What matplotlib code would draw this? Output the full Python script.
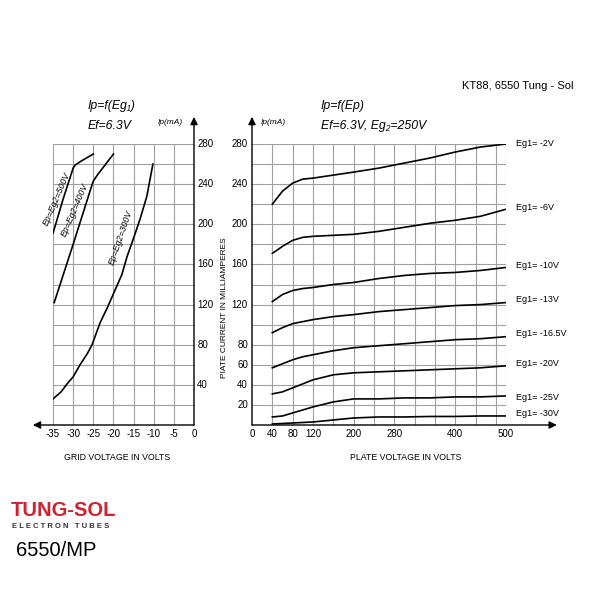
import matplotlib
matplotlib.use("Agg")
import matplotlib.pyplot as plt
from matplotlib import font_manager

plt.rcParams['font.family'] = ['Liberation Sans', 'DejaVu Sans']

# ---------------- data ----------------
# Left panel: Ip = f(Eg1)
eg_500 = [-35, -32.5, -30, -29.5, -28, -25]
ip_500 = [191, 225, 256, 259, 263, 270]
eg_400 = [-34.7, -30, -25.5, -25, -24, -20]
ip_400 = [122, 180, 237, 243, 249, 270]
eg_300 = [-35, -33, -31.5, -30, -28.3, -26.5, -25.3, -23.3, -21.5, -20.3,
          -17.9, -16.6, -15.1, -13.4, -11.7, -10.2]
ip_300 = [26, 33, 41, 48, 60, 71, 80, 102, 117, 128, 150, 168, 185, 205, 228, 260]
left_labels = ["Ep=Eg2=500V", "Ep=Eg2=400V", "Ep=Eg2=300V"]
left_xticks = [-35, -30, -25, -20, -15, -10, -5, 0]
left_yticks = [40, 80, 120, 160, 200, 240, 280]

# Right panel: Ip = f(Ep)
ep = [40, 60, 80, 100, 120, 160, 200, 250, 300, 350, 400, 450, 500]
curves = {
    "Eg1= -2V":    [220, 233, 241, 245, 246, 249, 252, 256, 261, 266, 272, 277, 280],
    "Eg1= -6V":    [171, 178, 184, 187, 188, 189, 190, 193, 197, 201, 204, 208, 215],
    "Eg1= -10V":   [123, 130, 134, 136, 137, 140, 142, 146, 149, 151, 152, 154, 157],
    "Eg1= -13V":   [92, 97, 101, 103, 105, 108, 110, 113, 115, 117, 119, 120, 122],
    "Eg1= -16.5V": [57, 61, 65, 68, 70, 74, 77, 79, 81, 83, 85, 86, 88],
    "Eg1= -20V":   [31, 33, 37, 41, 45, 50, 52, 53, 54, 55, 56, 57, 59],
    "Eg1= -25V":   [8, 9, 12, 15, 18, 23, 26, 26, 27, 27, 28, 28, 29],
    "Eg1= -30V":   [1, 1.5, 2, 2.5, 3, 5, 7, 8, 8, 8.5, 8.5, 9, 9],
}
right_xticks = [0, 40, 80, 120, 200, 280, 400, 500]
right_yticks = [20, 40, 60, 80, 120, 160, 200, 240, 280]

# ---------------- figure ----------------
fig = plt.figure(figsize=(6, 6), dpi=100)
fig.patch.set_facecolor('white')

def fpx(x, y):
    return x / 600.0, 1 - y / 600.0

GRID = '#a0a0a0'
TICKFS = 7
TITLEFS = 8.8

# Left axes
axL = fig.add_axes([53/600, 175/600, 141/600, 281/600])
axL.set_xlim(-35, 0)
axL.set_ylim(0, 280)
axL.axis('off')
for v in range(-35, 0, 5):
    axL.plot([v, v], [0, 280], color=GRID, lw=0.8, zorder=1)
for h in range(20, 281, 20):
    axL.plot([-35, 0], [h, h], color=GRID, lw=0.8, zorder=1)
axL.plot(eg_500, ip_500, color='black', lw=1.2, zorder=3)
axL.plot(eg_400, ip_400, color='black', lw=1.2, zorder=3)
axL.plot(eg_300, ip_300, color='black', lw=1.2, zorder=3)
axL.text(-34.0, 225, left_labels[0], rotation=67, rotation_mode='anchor',
         ha='center', va='center', fontsize=6.3, style='italic', zorder=4)
axL.text(-29.7, 214, left_labels[1], rotation=67, rotation_mode='anchor',
         ha='center', va='center', fontsize=6.3, style='italic', zorder=4)
axL.text(-18.2, 187, left_labels[2], rotation=71, rotation_mode='anchor',
         ha='center', va='center', fontsize=6.3, style='italic', zorder=4)
arrow = dict(arrowstyle='-|>', mutation_scale=11, lw=1.0, color='black',
             shrinkA=0, shrinkB=0)
axL.annotate('', xy=(-40, 0), xytext=(0, 0), arrowprops=arrow, annotation_clip=False)
axL.annotate('', xy=(0, 307), xytext=(0, 0), arrowprops=arrow, annotation_clip=False)
for t in left_xticks:
    axL.text(t, -4, str(t), ha='center', va='top', fontsize=TICKFS, clip_on=False)
for t in left_yticks:
    axL.text(0.8, t, str(t), ha='left', va='center', fontsize=TICKFS, clip_on=False)

# Right axes
axR = fig.add_axes([252/600, 175/600, 254/600, 281/600])
axR.set_xlim(0, 500)
axR.set_ylim(0, 280)
axR.axis('off')
for v in list(range(40, 481, 40)) + [500]:
    axR.plot([v, v], [0, 280], color=GRID, lw=0.8, zorder=1)
for h in range(20, 281, 20):
    axR.plot([0, 500], [h, h], color=GRID, lw=0.8, zorder=1)
for name, vals in curves.items():
    axR.plot(ep, vals, color='black', lw=1.2, zorder=3)
axR.annotate('', xy=(600, 0), xytext=(0, 0), arrowprops=arrow, annotation_clip=False)
axR.annotate('', xy=(0, 307), xytext=(0, 0), arrowprops=arrow, annotation_clip=False)
for t in right_xticks:
    axR.text(t, -4, str(t), ha='center', va='top', fontsize=TICKFS, clip_on=False)
for t in right_yticks:
    axR.text(-8, t, str(t), ha='right', va='center', fontsize=TICKFS, clip_on=False)

# Curve labels at right
label_y = [144, 208, 266, 300, 333, 363, 397, 414]
for (name, vals), py in zip(curves.items(), label_y):
    fig.text(*fpx(516, py), name, ha='left', va='center', fontsize=6.5)

# Titles and texts
fig.text(*fpx(462, 86), "KT88, 6550 Tung - Sol", ha='left', va='center', fontsize=8)
fig.text(*fpx(88, 106), "Ip=f(Eg\u2081)", ha='left', va='center', fontsize=TITLEFS,
         style='italic')
fig.text(*fpx(88, 126), "Ef=6.3V", ha='left', va='center', fontsize=TITLEFS, style='italic')
fig.text(*fpx(158, 123), "Ip(mA)", ha='left', va='center', fontsize=6, style='italic')
fig.text(*fpx(321, 106), "Ip=f(Ep)", ha='left', va='center', fontsize=TITLEFS, style='italic')
fig.text(*fpx(321, 126), "Ef=6.3V, Eg\u2082=250V", ha='left', va='center', fontsize=TITLEFS,
         style='italic')
fig.text(*fpx(261, 123), "Ip(mA)", ha='left', va='center', fontsize=6, style='italic')

fig.text(*fpx(117, 457), "GRID VOLTAGE IN VOLTS", ha='center', va='center', fontsize=6.3)
fig.text(*fpx(406, 457), "PLATE VOLTAGE IN VOLTS", ha='center', va='center', fontsize=6.3)
fig.text(*fpx(224, 308), "PIATE CURRENT IN MILLIAMPERES", ha='center', va='center',
         rotation=90, fontsize=6)

# Logo
names = {f.name for f in font_manager.fontManager.ttflist}
if 'Liberation Sans Narrow' in names:
    logo_family, logo_fs = 'Liberation Sans Narrow', 16.5
else:
    logo_family, logo_fs = 'Liberation Sans', 14.5
fig.text(*fpx(11, 510), "TUNG-SOL", ha='left', va='center', fontsize=logo_fs,
         fontweight='bold', color='#d0212e', family=logo_family)
fig.text(*fpx(12, 526), "E L E C T R O N   T U B E S", ha='left', va='center',
         fontsize=5.5, fontweight='bold', color='#333333')
fig.text(*fpx(16, 550), "6550/MP", ha='left', va='center', fontsize=14.5, color='black')

fig.savefig("out.png", dpi=100, facecolor='white')
